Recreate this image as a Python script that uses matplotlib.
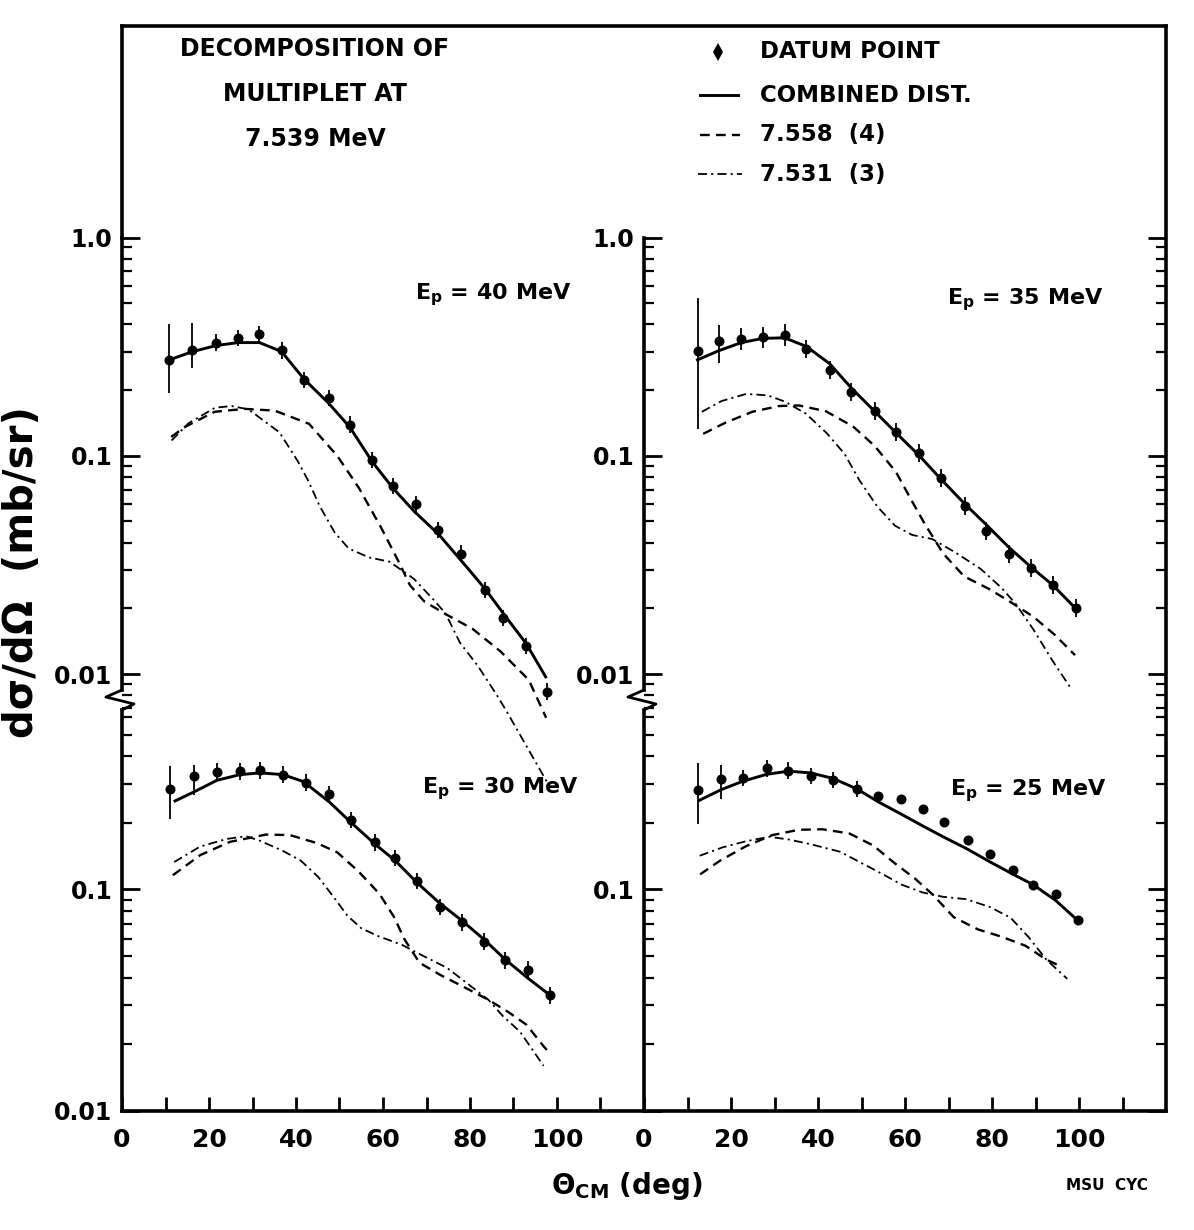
import numpy as np
import matplotlib
matplotlib.use('Agg')
import matplotlib.pyplot as plt
from matplotlib.ticker import FixedLocator, FixedFormatter, LogLocator, NullFormatter

plt.rcParams['font.family'] = ['DejaVu Sans']
plt.rcParams['font.weight'] = 'bold'
plt.rcParams['mathtext.fontset'] = 'dejavusans'
plt.rcParams['lines.scale_dashes'] = False

# ---------------- data (theta_CM in deg, dsigma/dOmega in mb/sr) ----------------
# Ep = 40 MeV
pts40_x = [10.9, 16.2, 21.7, 26.7, 31.6, 36.7, 41.8, 47.5, 52.4, 57.5, 62.4, 67.7, 72.7, 78.0, 83.4, 87.7, 92.8, 97.7]
pts40_y = [0.276, 0.305, 0.330, 0.346, 0.362, 0.304, 0.222, 0.184, 0.139, 0.0957, 0.0727, 0.0603, 0.0457, 0.0356, 0.0242, 0.0181, 0.0134, 0.0083]
bar40_up = [1.45, 1.33, 1.09, 1.09, 1.09, 1.09, 1.09, 1.09, 1.09, 1.09, 1.09, 1.09, 1.09, 1.09, 1.09, 1.09, 1.09, 1.09]
bar40_dn = [1.42, 1.21, 1.09, 1.09, 1.09, 1.09, 1.09, 1.09, 1.09, 1.09, 1.09, 1.09, 1.09, 1.09, 1.09, 1.09, 1.09, 1.09]
comb40_x = [10.9, 16.2, 21.7, 26.7, 31.6, 36.7, 41.8, 47.5, 52.4, 57.5, 62.3, 67.1, 72.9, 78.6, 83.5, 88.4, 92.9, 97.4]
comb40_y = [0.275, 0.300, 0.320, 0.330, 0.330, 0.300, 0.225, 0.174, 0.135, 0.094, 0.071, 0.0558, 0.0434, 0.032, 0.0245, 0.0181, 0.0138, 0.0097]
d40_x = [11.3, 14.6, 21.3, 28.2, 35.1, 43.0, 49.5, 54.5, 59.5, 63.7, 66.2, 69.5, 74.2, 80.6, 87.0, 93.5, 97.5]
d40_y = [0.122, 0.136, 0.159, 0.164, 0.161, 0.140, 0.0998, 0.071, 0.0471, 0.0324, 0.0255, 0.0215, 0.0189, 0.0161, 0.0127, 0.0094, 0.0063]
dd40_x = [11.4, 15.3, 21.4, 25.2, 29.1, 36.2, 40.4, 42.8, 45.5, 48.9, 52.1, 56.8, 61.5, 67.1, 71.9, 74.4, 77.7, 81.8, 86.0, 88.5, 97.7]
dd40_y = [0.1175, 0.141, 0.166, 0.169, 0.163, 0.128, 0.0945, 0.0769, 0.0585, 0.0445, 0.0376, 0.0342, 0.0327, 0.0273, 0.0216, 0.0189, 0.0139, 0.0109, 0.0081, 0.0067, 0.0032]

# Ep = 35 MeV
pts35_x = [12.3, 17.2, 22.4, 27.3, 32.3, 37.3, 42.7, 47.7, 53.0, 58.0, 63.3, 68.3, 73.8, 78.7, 83.9, 88.9, 94.1, 99.2]
pts35_y = [0.301, 0.334, 0.342, 0.349, 0.358, 0.309, 0.246, 0.195, 0.160, 0.129, 0.103, 0.079, 0.059, 0.0453, 0.0355, 0.0306, 0.0256, 0.020]
bar35_up = [1.76, 1.19, 1.12, 1.12, 1.12, 1.10, 1.10, 1.10, 1.10, 1.10, 1.10, 1.10, 1.10, 1.10, 1.10, 1.10, 1.10, 1.10]
bar35_dn = [2.27, 1.25, 1.12, 1.12, 1.12, 1.10, 1.10, 1.10, 1.10, 1.10, 1.10, 1.10, 1.10, 1.10, 1.10, 1.10, 1.10, 1.10]
comb35_x = [12.3, 17.2, 22.4, 27.3, 32.3, 37.3, 42.7, 47.7, 53.0, 58.0, 63.3, 68.3, 73.8, 78.7, 83.9, 88.9, 94.1, 99.2]
comb35_y = [0.275, 0.303, 0.330, 0.345, 0.347, 0.317, 0.264, 0.204, 0.160, 0.127, 0.100, 0.078, 0.060, 0.0483, 0.038, 0.031, 0.0254, 0.020]
d35_x = [13.6, 18.8, 24.9, 31.0, 35.6, 41.8, 48.1, 53.0, 57.9, 61.2, 64.6, 68.8, 73.6, 79.2, 83.9, 89.5, 94.3, 99.1]
d35_y = [0.126, 0.142, 0.159, 0.169, 0.170, 0.160, 0.136, 0.111, 0.0844, 0.064, 0.0485, 0.0356, 0.028, 0.0246, 0.0216, 0.0183, 0.0152, 0.0122]
dd35_x = [13.3, 17.8, 23.5, 28.5, 32.4, 37.2, 42.0, 46.1, 49.5, 53.6, 57.7, 61.6, 66.3, 71.8, 77.4, 82.2, 85.5, 89.6, 93.8, 98.3]
dd35_y = [0.159, 0.178, 0.192, 0.189, 0.177, 0.156, 0.127, 0.102, 0.0773, 0.0586, 0.0478, 0.0434, 0.0415, 0.0358, 0.0303, 0.0248, 0.0209, 0.0159, 0.0116, 0.0085]

# Ep = 30 MeV
pts30_x = [11.0, 16.6, 21.8, 27.1, 31.8, 37.0, 42.4, 47.7, 52.6, 58.2, 62.8, 67.9, 73.1, 78.2, 83.3, 88.0, 93.3, 98.4]
pts30_y = [0.283, 0.324, 0.340, 0.341, 0.345, 0.330, 0.304, 0.269, 0.206, 0.163, 0.139, 0.109, 0.0835, 0.0710, 0.0582, 0.0478, 0.0435, 0.0333]
bar30_up = [1.27, 1.13, 1.09, 1.09, 1.09, 1.09, 1.09, 1.09, 1.09, 1.09, 1.09, 1.09, 1.09, 1.09, 1.09, 1.09, 1.09, 1.09]
bar30_dn = [1.36, 1.21, 1.09, 1.09, 1.09, 1.09, 1.09, 1.09, 1.09, 1.09, 1.09, 1.09, 1.09, 1.09, 1.09, 1.09, 1.09, 1.09]
comb30_x = [12.2, 16.6, 21.8, 27.1, 31.8, 37.0, 41.7, 47.7, 52.6, 58.2, 62.8, 67.9, 73.1, 78.2, 83.3, 88.0, 93.3, 98.4]
comb30_y = [0.251, 0.276, 0.311, 0.330, 0.336, 0.330, 0.307, 0.248, 0.201, 0.160, 0.135, 0.107, 0.0865, 0.0722, 0.0593, 0.0485, 0.0398, 0.0333]
d30_x = [11.7, 18.0, 24.8, 33.1, 38.6, 44.8, 49.5, 54.3, 59.2, 62.5, 65.0, 68.4, 73.2, 78.7, 84.2, 88.9, 93.0, 97.1, 98.2]
d30_y = [0.116, 0.143, 0.164, 0.177, 0.176, 0.162, 0.147, 0.121, 0.0955, 0.0753, 0.0593, 0.0467, 0.0411, 0.0362, 0.0318, 0.0279, 0.0245, 0.0194, 0.0184]
dd30_x = [12.0, 17.9, 24.0, 28.5, 31.7, 37.1, 41.1, 45.1, 48.5, 51.8, 55.0, 58.8, 64.4, 69.2, 74.7, 79.5, 84.2, 87.5, 91.5, 96.9]
dd30_y = [0.133, 0.156, 0.169, 0.174, 0.166, 0.149, 0.135, 0.114, 0.0933, 0.0762, 0.0668, 0.0617, 0.0562, 0.0502, 0.0443, 0.0375, 0.0318, 0.0269, 0.0228, 0.0160]

# Ep = 25 MeV
pts25_x = [12.4, 17.7, 22.7, 28.2, 33.2, 38.3, 43.5, 49.0, 53.8, 59.1, 64.2, 69.0, 74.4, 79.6, 84.9, 89.5, 94.7, 99.7]
pts25_y = [0.281, 0.316, 0.319, 0.352, 0.344, 0.325, 0.312, 0.284, 0.265, 0.257, 0.231, 0.202, 0.167, 0.144, 0.122, 0.105, 0.0955, 0.0725]
bar25_up = [1.32, 1.15, 1.09, 1.09, 1.09, 1.09, 1.09, 1.09, 1.0, 1.0, 1.0, 1.0, 1.0, 1.0, 1.0, 1.0, 1.0, 1.0]
bar25_dn = [1.42, 1.23, 1.09, 1.09, 1.09, 1.09, 1.09, 1.09, 1.0, 1.0, 1.0, 1.0, 1.0, 1.0, 1.0, 1.0, 1.0, 1.0]
comb25_x = [12.8, 17.7, 22.7, 28.2, 33.2, 38.3, 43.5, 49.0, 53.8, 59.1, 64.2, 69.0, 74.4, 79.6, 84.9, 89.5, 94.7, 99.7]
comb25_y = [0.253, 0.282, 0.308, 0.331, 0.342, 0.336, 0.317, 0.284, 0.249, 0.219, 0.193, 0.172, 0.152, 0.133, 0.117, 0.105, 0.089, 0.0725]
d25_x = [12.9, 17.5, 23.5, 29.5, 35.6, 41.0, 47.2, 52.7, 57.5, 62.3, 66.4, 71.2, 76.8, 82.2, 87.7, 92.5, 95.6]
d25_y = [0.117, 0.135, 0.157, 0.176, 0.186, 0.187, 0.179, 0.158, 0.132, 0.112, 0.0947, 0.075, 0.066, 0.0612, 0.0557, 0.0482, 0.0452]
dd25_x = [12.8, 18.1, 23.4, 28.8, 33.4, 38.9, 45.1, 49.9, 54.6, 59.3, 64.0, 68.7, 74.1, 79.6, 84.3, 88.4, 92.5, 97.3]
dd25_y = [0.142, 0.155, 0.165, 0.173, 0.168, 0.159, 0.148, 0.132, 0.118, 0.105, 0.097, 0.0927, 0.0904, 0.0832, 0.0745, 0.061, 0.0482, 0.0395]

energy_labels = ["40", "35", "30", "25"]
label_pos = [(85.4, 0.548), (87.6, 0.520), (86.9, 0.286), (88.4, 0.280)]
x_major = [0, 20, 40, 60, 80, 100]
x_minor = [10, 30, 50, 70, 90, 110]
title_lines = ["DECOMPOSITION OF", "MULTIPLET AT", "7.539 MeV"]
legend_labels = ["DATUM POINT", "COMBINED DIST.", "7.558  (4)", "7.531  (3)"]

# ---------------- layout ----------------
W, H = 1194, 1230
fig = plt.figure(figsize=(W / 100, H / 100), dpi=100)
fig.patch.set_facecolor('white')

XL0, XMID, XR1 = 122, 644, 1166
Y_FRAME = 26
Y_UP_TOP = 237.5
Y_BREAK = 710
Y_BOT = 1111
UP_LIM = (0.00684, 1.0)
LO_LIM = (0.01, 0.646)
SPINE_LW = 2.6
DASH = (0, (7, 4.5))
DASHDOT = (0, (6.5, 3, 1.5, 3))


def add_ax(x0, x1, y0, y1):
    return fig.add_axes([x0 / W, 1 - y1 / H, (x1 - x0) / W, (y1 - y0) / H])


axUL = add_ax(XL0, XMID, Y_UP_TOP, Y_BREAK)
axUR = add_ax(XMID, XR1, Y_UP_TOP, Y_BREAK)
axLL = add_ax(XL0, XMID, Y_BREAK, Y_BOT)
axLR = add_ax(XMID, XR1, Y_BREAK, Y_BOT)


def setup(ax, upper, right_ticks, ylabels):
    ax.set_yscale('log')
    ax.set_xlim(0, 120)
    ax.set_ylim(*(UP_LIM if upper else LO_LIM))
    ax.patch.set_visible(False)
    for s in ['top', 'right', 'bottom', 'left']:
        ax.spines[s].set_visible(False)
        ax.spines[s].set_linewidth(SPINE_LW)
    ax.spines['left'].set_visible(True)
    if upper:
        ax.spines['left'].set_bounds(0.00845, 1.0)
        majors = [1.0, 0.1, 0.01]
    else:
        ax.spines['bottom'].set_visible(True)
        majors = [0.1, 0.01]
    ax.yaxis.set_major_locator(FixedLocator(majors))
    ax.yaxis.set_major_formatter(FixedFormatter(ylabels))
    ax.yaxis.set_minor_locator(LogLocator(base=10, subs=[2, 3, 4, 5, 6, 7, 8, 9], numticks=30))
    ax.yaxis.set_minor_formatter(NullFormatter())
    ax.tick_params(axis='y', which='major', direction='in', length=13, width=2,
                   left=True, right=right_ticks, labelsize=17, pad=7)
    ax.tick_params(axis='y', which='minor', direction='in', length=7, width=1.6,
                   left=True, right=right_ticks)
    if upper:
        ax.tick_params(axis='x', which='both', bottom=False, labelbottom=False)
    else:
        ax.xaxis.set_major_locator(FixedLocator(x_major))
        ax.xaxis.set_major_formatter(FixedFormatter([str(v) for v in x_major]))
        ax.xaxis.set_minor_locator(FixedLocator(x_minor))
        ax.tick_params(axis='x', which='both', direction='in', length=10, width=2,
                       labelsize=18, pad=12)


setup(axUL, True, False, ["1.0", "0.1", "0.01"])
setup(axUR, True, True, ["1.0", "0.1", "0.01"])
setup(axLL, False, False, ["0.1", "0.01"])
setup(axLR, False, True, ["0.1", ""])


def panel(ax, px, py, bup, bdn, cx, cy, dx, dy, ddx, ddy):
    lo = [y - y / f for y, f in zip(py, bdn)]
    hi = [y * f - y for y, f in zip(py, bup)]
    ax.errorbar(px, py, yerr=[lo, hi], fmt='o', ms=6.2, color='black',
                elinewidth=1.3, capsize=0, zorder=5)
    ax.plot(cx, cy, '-', lw=2.1, color='black', clip_on=False, zorder=4)
    ax.plot(dx, dy, linestyle=DASH, lw=1.7, color='black', clip_on=False, zorder=3)
    ax.plot(ddx, ddy, linestyle=DASHDOT, lw=1.3, color='black', clip_on=False, zorder=3)


panel(axUL, pts40_x, pts40_y, bar40_up, bar40_dn, comb40_x, comb40_y, d40_x, d40_y, dd40_x, dd40_y)
panel(axUR, pts35_x, pts35_y, bar35_up, bar35_dn, comb35_x, comb35_y, d35_x, d35_y, dd35_x, dd35_y)
panel(axLL, pts30_x, pts30_y, bar30_up, bar30_dn, comb30_x, comb30_y, d30_x, d30_y, dd30_x, dd30_y)
panel(axLR, pts25_x, pts25_y, bar25_up, bar25_dn, comb25_x, comb25_y, d25_x, d25_y, dd25_x, dd25_y)

for ax, e, (lx, ly) in zip([axUL, axUR, axLL, axLR], energy_labels, label_pos):
    ax.text(lx, ly, r"E$_{\mathbf{p}}$ = " + e + " MeV", ha='center', va='center',
            fontsize=16, fontweight='bold')

# ---------------- overlay in pixel coordinates ----------------
ov = fig.add_axes([0, 0, 1, 1], zorder=10)
ov.set_xlim(0, W)
ov.set_ylim(H, 0)
ov.axis('off')
ov.patch.set_visible(False)

# frame
ov.plot([XL0, XR1], [Y_FRAME, Y_FRAME], color='black', lw=SPINE_LW, solid_capstyle='projecting')
ov.plot([XL0, XL0], [Y_FRAME, Y_UP_TOP], color='black', lw=SPINE_LW, solid_capstyle='projecting')
ov.plot([XR1, XR1], [Y_FRAME, Y_BOT], color='black', lw=SPINE_LW, solid_capstyle='projecting')

# axis breaks
for X in (XL0, XMID):
    ov.plot([X, X - 16, X + 12, X], [690, 697, 704, 710], color='black', lw=2.0,
            solid_joinstyle='round')

# title
for i, line in enumerate(title_lines):
    ov.text(315, 49 + 45 * i, line, ha='center', va='center', fontsize=17, fontweight='bold')

# legend
leg_y = [52, 95, 135, 174]
ov.plot([718], [leg_y[0]], marker='d', ms=9, color='black', mew=0)
ov.plot([700, 738], [leg_y[1], leg_y[1]], '-', lw=2.1, color='black')
ov.plot([700, 740], [leg_y[2], leg_y[2]], linestyle=DASH, lw=1.7, color='black')
ov.plot([698, 742], [leg_y[3], leg_y[3]], linestyle=DASHDOT, lw=1.3, color='black')
for y, lab in zip(leg_y, legend_labels):
    ov.text(760, y, lab, ha='left', va='center', fontsize=16.5, fontweight='bold')

# axis labels
ov.text(22, 572, "dσ/dΩ  (mb/sr)", rotation=90, ha='center', va='center',
        fontsize=29, fontweight='bold')
ov.text(627, 1186, r"Θ$_{\mathbf{CM}}$ (deg)", ha='center', va='center',
        fontsize=20, fontweight='bold')
ov.text(1107, 1185, "MSU  CYC", ha='center', va='center', fontsize=11, fontweight='bold')

fig.savefig('out.png', dpi=100)
